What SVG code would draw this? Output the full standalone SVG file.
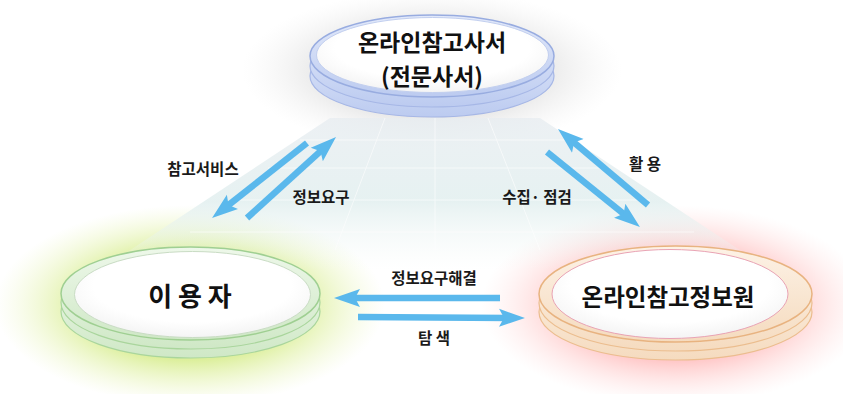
<svg xmlns="http://www.w3.org/2000/svg" width="843" height="394" viewBox="0 0 843 394">
<defs>
<style>
.node{font-family:"Noto Sans CJK KR","Noto Sans",sans-serif;font-weight:700;fill:#111;text-anchor:middle}
.lbl{font-family:"Noto Sans CJK KR","Noto Sans",sans-serif;font-size:15.5px;font-weight:700;fill:#1a1a1a;text-anchor:middle}
.arr{stroke:#5ab8ec;stroke-width:6.5;fill:none;marker-end:url(#head)}
.grid{stroke:#ffffff;stroke-width:1;opacity:0.6}
</style>
<marker id="head" viewBox="0 0 26 20" markerWidth="26" markerHeight="20" markerUnits="userSpaceOnUse" refX="10" refY="10" orient="auto">
<path d="M0,1 L26,10 L0,19 L5,10 Z" fill="#5ab8ec"/>
</marker>
<radialGradient id="gGreen"><stop offset="0.55" stop-color="#dcef9c" stop-opacity="1"/><stop offset="1" stop-color="#eef7c8" stop-opacity="0"/></radialGradient>
<radialGradient id="gPink"><stop offset="0.55" stop-color="#ffc6c6" stop-opacity="1"/><stop offset="1" stop-color="#ffe4e4" stop-opacity="0"/></radialGradient>
<radialGradient id="gGray"><stop offset="0.5" stop-color="#e0e0e0" stop-opacity="1"/><stop offset="1" stop-color="#f2f2f2" stop-opacity="0"/></radialGradient>
<linearGradient id="gFloor" x1="0" y1="0" x2="0" y2="1"><stop offset="0" stop-color="#e8edf1"/><stop offset="0.55" stop-color="#e0eeee"/><stop offset="1" stop-color="#f2f8f6" stop-opacity="0"/></linearGradient>
<linearGradient id="rimBlue" x1="0" y1="0" x2="0" y2="1"><stop offset="0" stop-color="#e2e9fa"/><stop offset="1" stop-color="#bccbf0"/></linearGradient>
<linearGradient id="rimGreen" x1="0" y1="0" x2="0" y2="1"><stop offset="0" stop-color="#eef8ea"/><stop offset="1" stop-color="#cfe8c6"/></linearGradient>
<linearGradient id="rimPeach" x1="0" y1="0" x2="0" y2="1"><stop offset="0" stop-color="#fdf2e6"/><stop offset="1" stop-color="#f5dbbf"/></linearGradient>
<radialGradient id="face" cx="0.5" cy="0.4" r="0.6"><stop offset="0.7" stop-color="#ffffff"/><stop offset="1" stop-color="#f4f4f4"/></radialGradient>
</defs>
<rect width="843" height="394" fill="#ffffff"/>
<g id="background">
<ellipse cx="432" cy="70" rx="190" ry="80" fill="url(#gGray)"/>
<ellipse cx="190" cy="305" rx="195" ry="100" fill="url(#gGreen)"/>
<ellipse cx="676" cy="305" rx="195" ry="100" fill="url(#gPink)"/>
<polygon points="330,118 540,118 770,270 100,270" fill="url(#gFloor)" opacity="0.8"/>
<g class="grid">
<line x1="300" y1="140" x2="572" y2="140"/>
<line x1="268" y1="168" x2="610" y2="168"/>
<line x1="230" y1="200" x2="650" y2="200"/>
<line x1="190" y1="232" x2="694" y2="232"/>
<line x1="385" y1="118" x2="335" y2="250"/>
<line x1="435" y1="118" x2="435" y2="250"/>
<line x1="488" y1="118" x2="540" y2="250"/>
</g>
</g>
<g id="connectors">
<line class="arr" x1="307" y1="143" x2="224.6" y2="208.1"/>
<line class="arr" x1="247" y1="218" x2="324.2" y2="147.8"/>
<line class="arr" x1="648" y1="205" x2="570.2" y2="139.3"/>
<line class="arr" x1="547" y1="152" x2="627.5" y2="217"/>
<line class="arr" x1="500" y1="298" x2="350" y2="298"/>
<line class="arr" x1="358" y1="317" x2="509" y2="317.9"/>
<text class="lbl" x="203" y="175">참고서비스</text>
<text class="lbl" x="321" y="203">정보요구</text>
<text class="lbl" x="645" y="170">활 용</text>
<text class="lbl" x="537" y="203">수집· 점검</text>
<text class="lbl" x="434" y="284">정보요구해결</text>
<text class="lbl" x="434" y="344">탐 색</text>
</g>
<g id="node-librarian">
<ellipse cx="432" cy="76" rx="122" ry="41" fill="url(#rimBlue)" stroke="#a6b7e6" stroke-width="1.2"/>
<ellipse cx="432" cy="66" rx="122" ry="41" fill="url(#rimBlue)" stroke="#a6b7e6" stroke-width="1.2"/>
<ellipse cx="432" cy="56" rx="122" ry="41" fill="url(#rimBlue)" stroke="#98ace0" stroke-width="1.5"/>
<ellipse cx="432.5" cy="55" rx="116" ry="37.5" fill="url(#face)" stroke="#c2cfef" stroke-width="1"/>
<text class="node" x="432" y="51" font-size="23">온라인참고사서</text>
<text class="node" x="432" y="85" font-size="23">(전문사서)</text>
</g>
<g id="node-user">
<ellipse cx="190.5" cy="311.5" rx="129.5" ry="46.5" fill="url(#rimGreen)" stroke="#a9d59c" stroke-width="1.2"/>
<ellipse cx="190.5" cy="302.5" rx="129.5" ry="46.5" fill="url(#rimGreen)" stroke="#a9d59c" stroke-width="1.2"/>
<ellipse cx="190.5" cy="293.5" rx="129.5" ry="46.5" fill="url(#rimGreen)" stroke="#9fcf92" stroke-width="1.5"/>
<ellipse cx="192.5" cy="294.5" rx="118" ry="43" fill="url(#face)" stroke="#c9dcc4" stroke-width="1"/>
<text class="node" x="190" y="306" font-size="26">이 용 자</text>
</g>
<g id="node-resource">
<ellipse cx="675.5" cy="312" rx="136.5" ry="48" fill="url(#rimPeach)" stroke="#ebbd8e" stroke-width="1.2"/>
<ellipse cx="675.5" cy="303" rx="136.5" ry="48" fill="url(#rimPeach)" stroke="#ebbd8e" stroke-width="1.2"/>
<ellipse cx="675.5" cy="294" rx="136.5" ry="48" fill="url(#rimPeach)" stroke="#e8b380" stroke-width="1.5"/>
<ellipse cx="670" cy="294" rx="118" ry="44.5" fill="url(#face)" stroke="#e9a3b4" stroke-width="1"/>
<text class="node" x="668" y="306" font-size="23.5">온라인참고정보원</text>
</g>
</svg>
